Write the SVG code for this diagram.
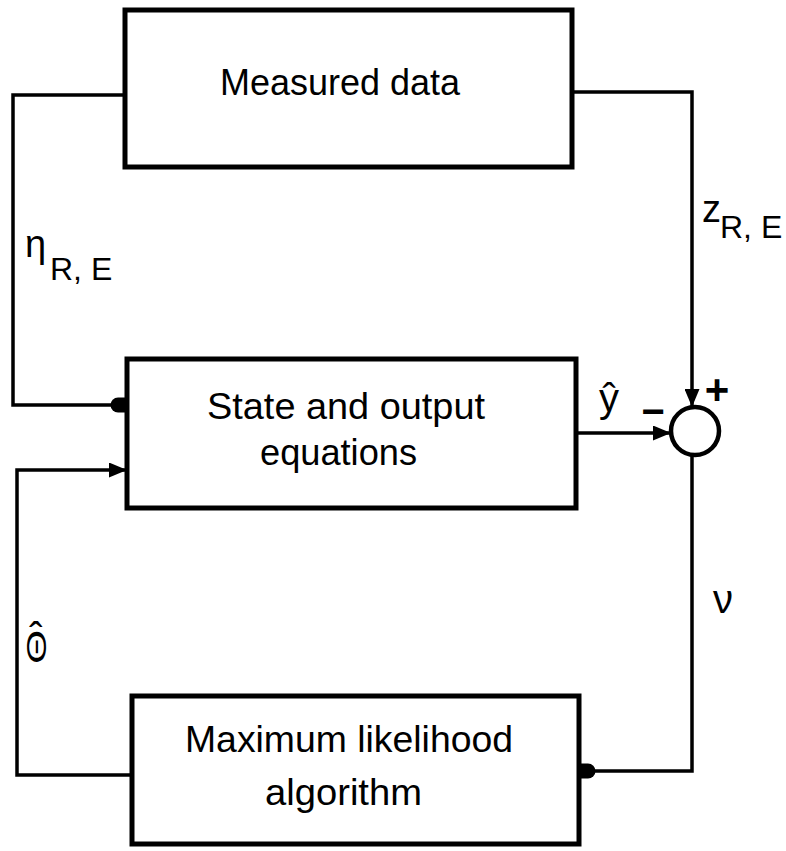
<svg xmlns="http://www.w3.org/2000/svg" width="786" height="851" viewBox="0 0 786 851">
<style>
.box{fill:#fff;stroke:#000;stroke-width:5;stroke-linejoin:miter}
.wire{fill:none;stroke:#000;stroke-width:3.5;stroke-linejoin:miter}
.lbl{font-family:"Liberation Sans",Arial,sans-serif;font-size:37px;fill:#000}
.sym{font-family:"Liberation Sans",Arial,sans-serif;fill:#000}
</style>
<defs>
<marker id="tri" markerUnits="userSpaceOnUse" viewBox="0 0 18 15" markerWidth="18" markerHeight="15" refX="17" refY="7.5" orient="auto">
<path d="M0,0 L18,7.5 L0,15 Z" fill="#000"/>
</marker>
<marker id="dot" markerUnits="userSpaceOnUse" viewBox="0 0 18 16" markerWidth="18" markerHeight="16" refX="17" refY="8" orient="auto">
<path d="M18,0.5 L9,0.5 A7.5,7.5 0 0 0 9,15.5 L18,15.5 Z" fill="#000"/>
</marker>
</defs>
<rect width="786" height="851" fill="#fff"/>
<g id="connectors">
<polyline class="wire" points="125,95 13,95 13,405 126,405" marker-end="url(#dot)"/>
<polyline class="wire" points="572,92 692,92 692,406" marker-end="url(#tri)"/>
<line class="wire" x1="576" y1="433" x2="670" y2="433" marker-end="url(#tri)"/>
<polyline class="wire" points="692,455 692,771 580,771" marker-end="url(#dot)"/>
<polyline class="wire" points="132,775 17,775 17,470 126,470" marker-end="url(#tri)"/>
</g>
<g id="measured-data">
<rect class="box" x="125" y="10" width="447" height="157"/>
<text class="lbl" x="220" y="95" textLength="240" lengthAdjust="spacingAndGlyphs">Measured data</text>
</g>
<g id="state-output">
<rect class="box" x="127" y="359" width="449" height="149"/>
<text class="lbl" x="207" y="419" textLength="278" lengthAdjust="spacingAndGlyphs">State and output</text>
<text class="lbl" x="260" y="465" textLength="157" lengthAdjust="spacingAndGlyphs">equations</text>
</g>
<g id="max-likelihood">
<rect class="box" x="132" y="696" width="447" height="148"/>
<text class="lbl" x="185" y="752" textLength="328" lengthAdjust="spacingAndGlyphs">Maximum likelihood</text>
<text class="lbl" x="265" y="805" textLength="157" lengthAdjust="spacingAndGlyphs">algorithm</text>
</g>
<g id="summing-junction">
<circle cx="695" cy="431" r="24" fill="#fff" stroke="#000" stroke-width="4.5"/>
<text class="sym" x="717" y="404" font-size="42" font-weight="bold" text-anchor="middle">+</text>
<text class="sym" x="653" y="425" font-size="40" font-weight="bold" text-anchor="middle">−</text>
</g>
<g id="labels">
<text class="sym" x="25" y="257" font-size="38">η</text>
<text class="sym" x="50" y="280" font-size="32">R, E</text>
<text class="sym" x="702" y="222" font-size="38">z</text>
<text class="sym" x="720" y="238" font-size="32">R, E</text>
<text class="sym" x="609" y="412" font-size="40" text-anchor="middle">ŷ</text>
<text class="sym" x="723" y="613" font-size="40" text-anchor="middle">ν</text>
<text class="sym" font-size="42" text-anchor="middle" transform="translate(27,647) rotate(90) scale(1.05,0.65)">Θ</text>
<text class="sym" x="36" y="651" font-size="40" text-anchor="middle">ˆ</text>
</g>
</svg>
